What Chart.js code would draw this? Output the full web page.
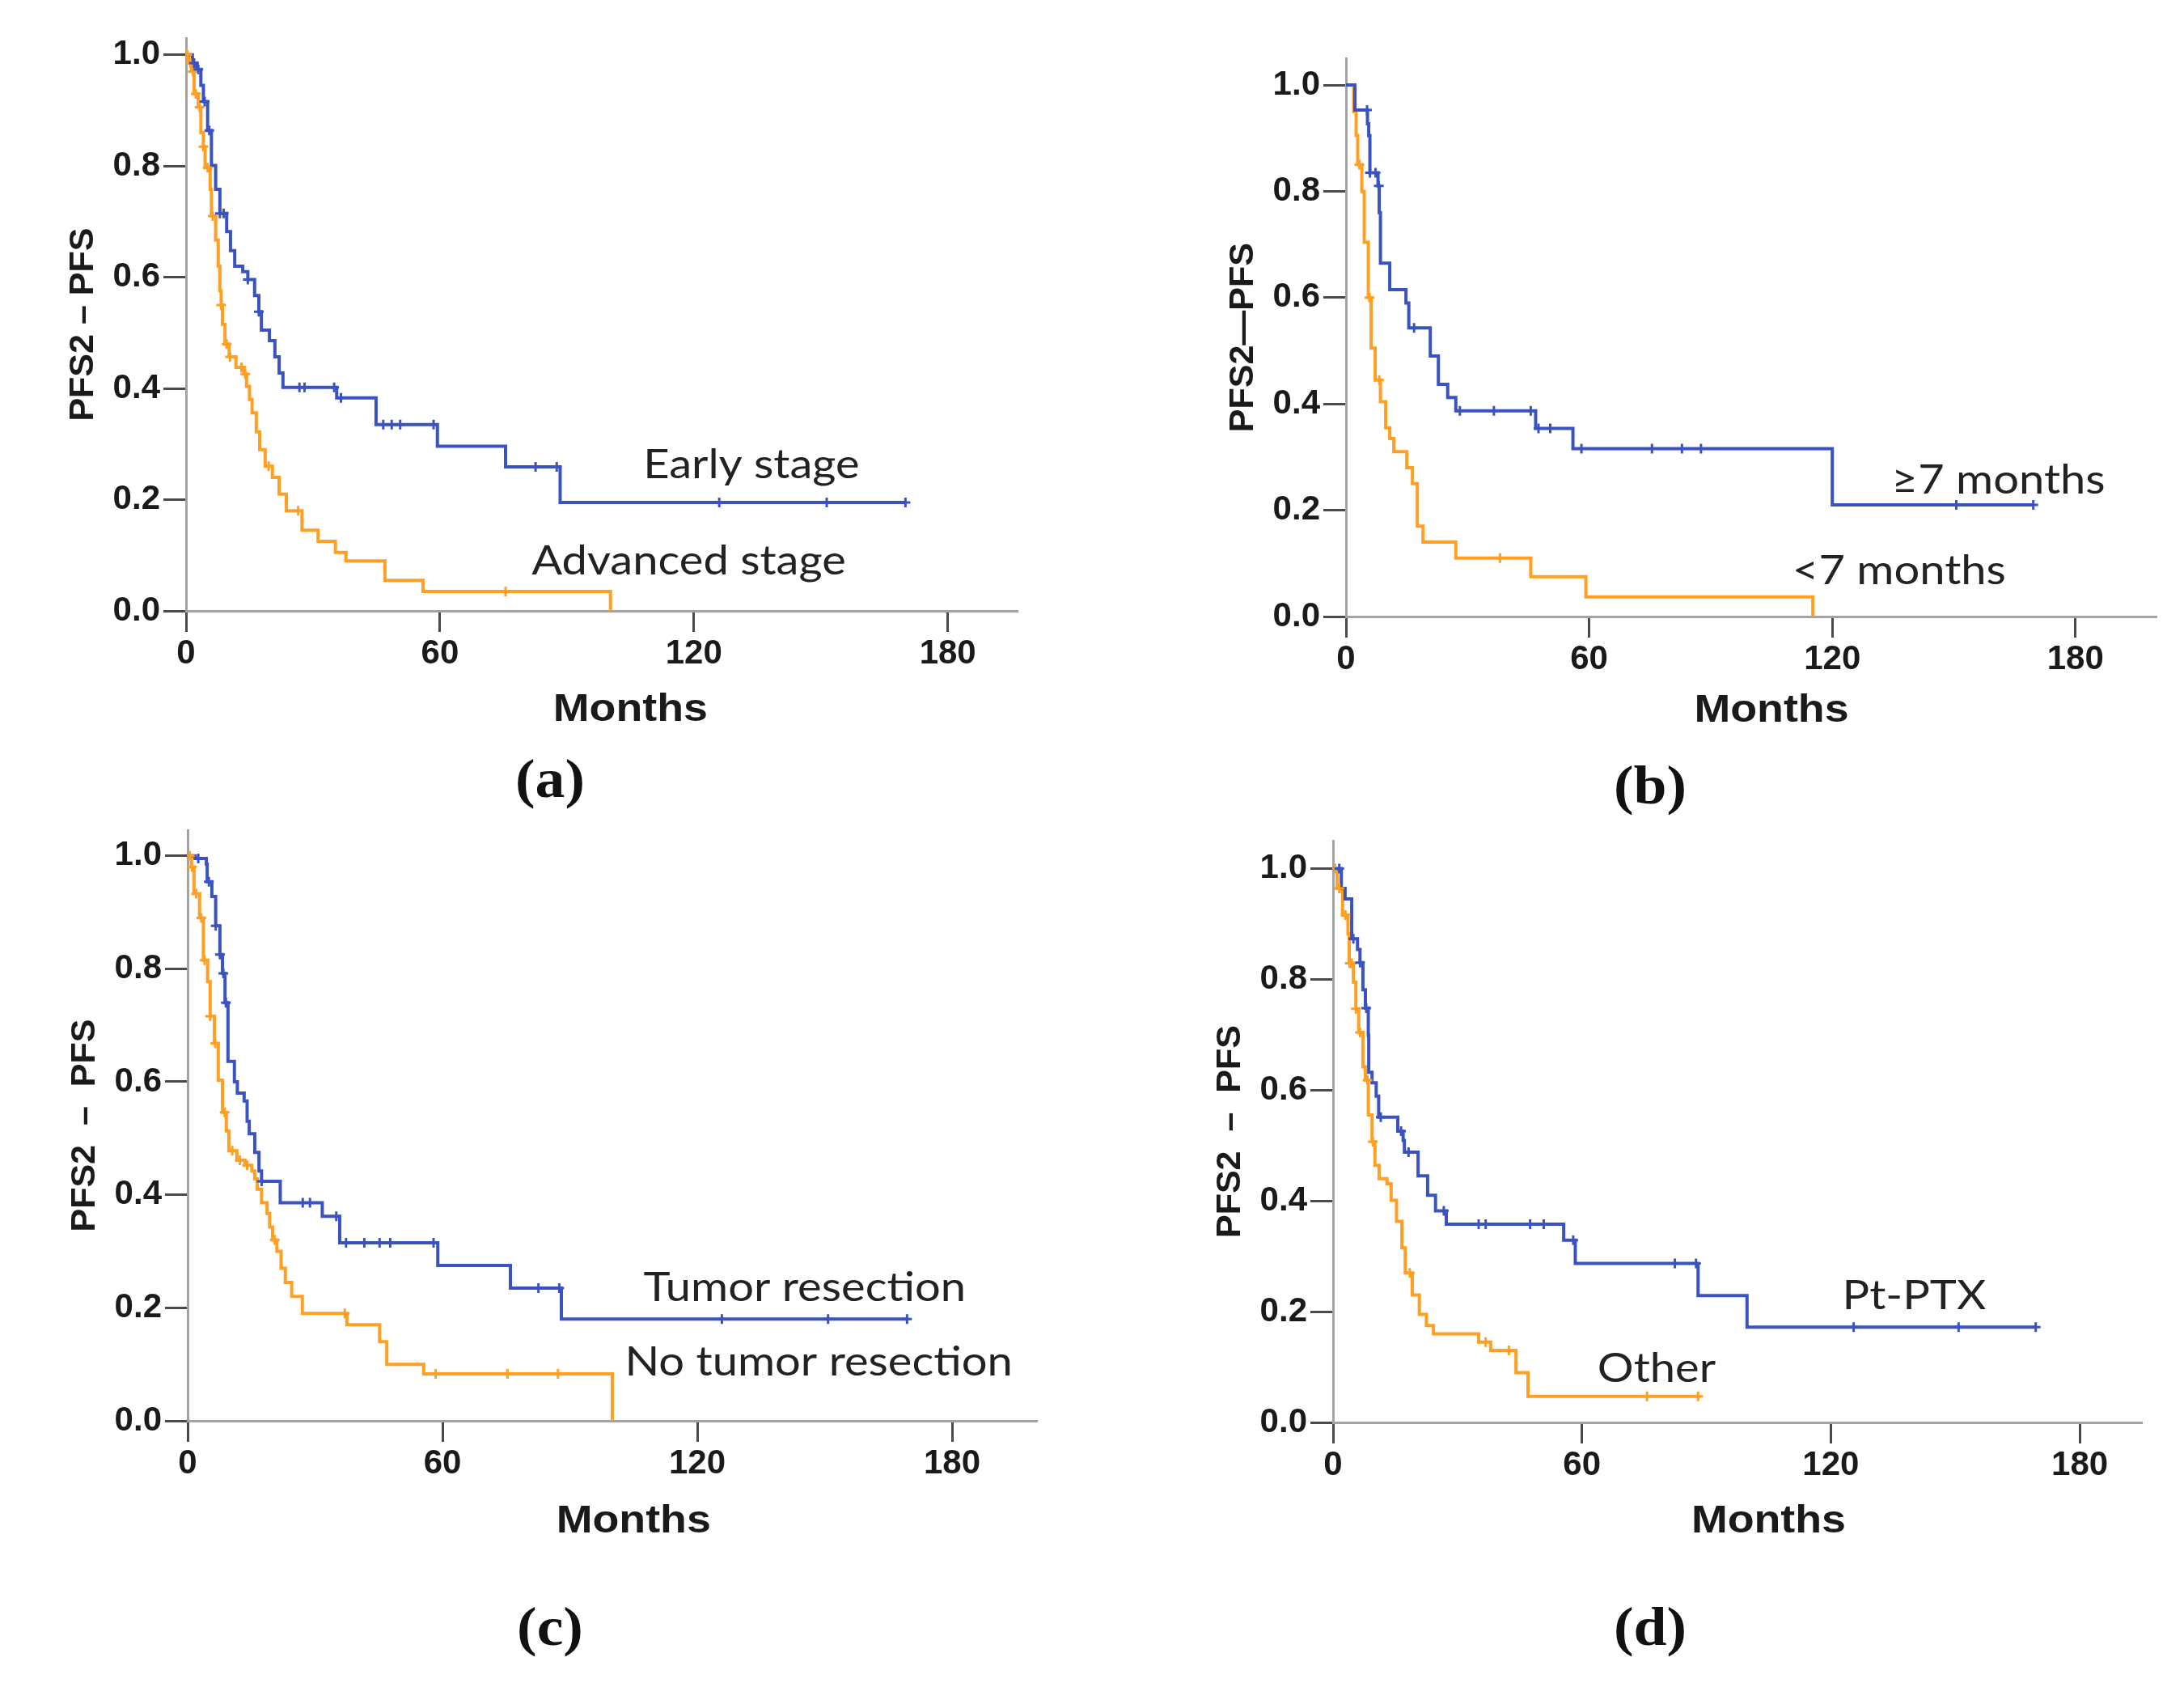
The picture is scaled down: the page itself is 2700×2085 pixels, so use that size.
<!DOCTYPE html>
<html><head><meta charset="utf-8">
<script src="https://cdn.jsdelivr.net/npm/chart.js@4.4.1/dist/chart.umd.min.js"></script>
<style>
html,body{margin:0;padding:0;background:#fff;}
body{width:2700px;height:2085px;position:relative;overflow:hidden;}
canvas{position:absolute;}
.cap{position:absolute;font-family:"Liberation Serif",serif;font-weight:bold;font-size:67px;color:#111;white-space:nowrap;transform:translate(-50%,-50%) scaleX(1.1);}
</style></head><body>
<script>
// ---------- data ----------
const xTickValues = [0, 60, 120, 180];
const yTickValues = [0, 0.2, 0.4, 0.6, 0.8, 1.0];
const panelLetters = ['(a)', '(b)', '(c)', '(d)'];
const yTitles = ['PFS2 \u2013 PFS', 'PFS2\u2014PFS', 'PFS2  \u2013  PFS', 'PFS2  \u2013  PFS'];
const xTitle = 'Months';

// (a)
const aBlueName = 'Early stage';
const aBlueT = [0,1.5,2.5,3.5,4.1,5.1,6.0,7.0,8.0,9.6,10.5,11.5,13.4,14.6,16.2,17.2,17.8,19.7,21.0,22.0,22.9,35.6,44.9,59.4,75.5,88.4,170];
const aBlueS = [1,0.985,0.974,0.945,0.916,0.864,0.801,0.758,0.715,0.682,0.648,0.62,0.61,0.596,0.567,0.538,0.505,0.486,0.457,0.428,0.402,0.383,0.335,0.296,0.259,0.195,0.195];
const aBlueCens = [1.9,2.9,4.4,5.5,8.0,8.9,14.6,17.2,26.8,28.0,35.0,36.6,46.6,48.6,50.6,58.5,82.6,87.6,126,151.4,170];
const aOrName = 'Advanced stage';
const aOrT = [0,0.6,1.3,1.9,2.9,3.5,4.1,4.5,5.7,6.0,7.0,7.6,8.0,8.3,8.6,9.2,10.2,11.8,13.7,14.3,15.0,15.6,16.6,17.4,18.7,20.4,22.0,23.7,27.4,31.2,35.3,37.8,47.0,56.0,100.3];
const aOrS = [1,0.985,0.97,0.93,0.906,0.86,0.835,0.797,0.758,0.71,0.667,0.62,0.576,0.55,0.515,0.48,0.457,0.438,0.426,0.404,0.38,0.356,0.322,0.29,0.26,0.24,0.21,0.18,0.145,0.125,0.105,0.09,0.055,0.035,0];
const aOrCens = [0.3,1.0,1.6,2.3,3.2,4.1,5.1,6.3,8.3,9.6,10.4,13.1,14.0,19.5,26.5,75.5];

// (b)
const bBlueName = '\u22657 months';
const bBlueT = [0,2.2,5.3,5.6,5.9,7.9,8.2,8.5,10.8,14.8,15.5,20.8,22.8,25.1,27.1,46.8,56.0,120.0,169.6];
const bBlueS = [1,0.953,0.927,0.905,0.835,0.81,0.76,0.665,0.615,0.59,0.543,0.49,0.437,0.412,0.387,0.354,0.316,0.21,0.21];
const bBlueCens = [5.2,5.9,7.3,8.1,16.8,28.1,36.5,45.6,47.5,50.4,58.1,75.5,82.9,87.6,150.6,169.6];
const bOrName = '<7 months';
const bOrT = [0,1.9,2.5,2.9,3.9,4.5,5.5,6.2,7.2,8.5,9.8,10.8,11.8,15.0,16.4,17.6,19.0,27.1,45.6,59.2,115.2];
const bOrS = [1,0.95,0.905,0.85,0.80,0.704,0.60,0.505,0.445,0.404,0.355,0.335,0.31,0.28,0.25,0.17,0.14,0.11,0.075,0.037,0];
const bOrCens = [3.3,5.8,8.2,38.0];

// (c)
const cBlueName = 'Tumor resection';
const cBlueT = [0,1.8,4.4,4.6,5.7,6.6,7.6,8.2,8.8,9.5,11.0,11.7,13.3,14.0,14.5,15.8,16.8,17.4,21.8,31.7,35.8,58.9,76.0,88.0,169.4];
const cBlueS = [1,0.995,0.985,0.954,0.928,0.876,0.825,0.792,0.74,0.636,0.60,0.58,0.566,0.53,0.508,0.475,0.442,0.424,0.386,0.362,0.315,0.275,0.235,0.18,0.18];
const cBlueCens = [2.5,5.0,6.6,7.6,8.4,9.0,17.4,27.1,28.8,35.0,37.3,41.6,45.2,47.7,57.9,82.6,87.5,125.8,150.8,169.4];
const cOrName = 'No tumor resection';
const cOrT = [0,0.9,1.5,2.8,3.7,4.7,5.3,6.3,7.2,8.2,9.1,9.7,11.6,13.5,15.1,15.8,16.4,17.4,18.7,19.3,20.0,21.0,22.0,23.0,24.5,27.0,37.5,45.2,46.9,55.6,100.0];
const cOrS = [1,0.98,0.933,0.89,0.815,0.777,0.716,0.668,0.603,0.546,0.513,0.478,0.461,0.452,0.442,0.428,0.41,0.386,0.367,0.343,0.32,0.30,0.27,0.245,0.22,0.19,0.17,0.14,0.10,0.083,0];
const cOrCens = [0.5,1.0,2.0,3.2,4.0,5.3,6.5,8.7,10.5,12.3,14.0,20.5,37.0,58.4,75.3,87.2];

// (d)
const dBlueName = 'Pt-PTX';
const dBlueT = [0,2.0,2.9,4.5,5.9,6.5,7.2,7.8,8.5,8.6,9.4,10.4,11.0,15.6,16.9,17.2,20.5,22.8,24.7,27.3,55.6,58.4,88.0,99.8,169.4];
const dBlueS = [1,0.964,0.945,0.873,0.854,0.83,0.781,0.748,0.699,0.632,0.613,0.589,0.551,0.526,0.509,0.488,0.445,0.41,0.382,0.358,0.329,0.287,0.229,0.172,0.172];
const dBlueCens = [1.5,4.9,6.5,8.0,11.5,16.4,18.2,26.7,35.1,36.8,47.5,50.8,57.9,82.4,87.5,125.5,150.8,169.4];
const dOrName = 'Other';
const dOrT = [0,1.0,2.3,3.6,3.9,4.9,5.5,6.2,7.2,7.8,8.5,9.4,10.1,11.1,13.0,14.0,15.3,16.6,17.4,19.1,20.8,22.5,24.2,35.1,38.0,44.1,47.0,88.0];
const dOrS = [1,0.964,0.916,0.882,0.829,0.795,0.747,0.704,0.642,0.618,0.555,0.507,0.464,0.44,0.431,0.401,0.363,0.315,0.27,0.23,0.195,0.175,0.16,0.145,0.13,0.09,0.047,0.047];
const dOrCens = [0.5,1.5,3.0,4.0,4.5,5.5,6.5,8.3,9.6,18.5,36.8,42.4,75.7,88.0];

// ---------- layout / style ----------
const BLUE = '#3b53c0';
const ORANGE = '#ffa024';
const AXIS = '#a3a3a3';
const TICK = '#4a4a4a';
const TXT = '#1a1a1a';
const Wy = 153, Hx = 200, padTop = 20, padRight = 30;
const layouts = [
  {x0:230,  pxM:5.233, y0:755,   pxU:696.5, xmax:196.5, ymax:1.03,  cap:[680,962],  mdy:123, lab:[[133.6,0.262],[118.8,0.090]]},
  {x0:1664, pxM:5.01,  y0:762.7, pxU:666,   xmax:200,   ymax:1.05,  cap:[2040,970], mdy:117, lab:[[161.0,0.257],[136.5,0.0855]]},
  {x0:232,  pxM:5.25,  y0:1756,  pxU:706.7, xmax:200,   ymax:1.045, cap:[680,2010], mdy:125, lab:[[145.3,0.236],[148.6,0.104]]},
  {x0:1648, pxM:5.13,  y0:1758,  pxU:693.3, xmax:195,   ymax:1.05,  cap:[2040,2010],mdy:123, lab:[[140.1,0.228],[78.0,0.097]]}
];
const panels = [
  {bn:aBlueName,bt:aBlueT,bs:aBlueS,bc:aBlueCens,on:aOrName,ot:aOrT,os:aOrS,oc:aOrCens},
  {bn:bBlueName,bt:bBlueT,bs:bBlueS,bc:bBlueCens,on:bOrName,ot:bOrT,os:bOrS,oc:bOrCens},
  {bn:cBlueName,bt:cBlueT,bs:cBlueS,bc:cBlueCens,on:cOrName,ot:cOrT,os:cOrS,oc:cOrCens},
  {bn:dBlueName,bt:dBlueT,bs:dBlueS,bc:dBlueCens,on:dOrName,ot:dOrT,os:dOrS,oc:dOrCens}
];

function survAt(T,S,t){let v=S[0];for(let i=0;i<T.length;i++){if(T[i]<=t)v=S[i];}return v;}
function curve(T,S){return T.map((t,i)=>({x:t,y:S[i]}));}
function cens(T,S,C){return C.map(t=>({x:t,y:survAt(T,S,t)}));}

const textPlugin = {
  id:'kmText',
  afterDatasetsDraw(chart, args, opts){
    const ctx = chart.ctx, xs = chart.scales.x, ys = chart.scales.y;
    (opts.items||[]).forEach(it=>{
      const px = xs.getPixelForValue(it.x);
      const py = (it.dy !== undefined) ? ys.getPixelForValue(0) + it.dy : ys.getPixelForValue(it.y);
      ctx.save();
      ctx.translate(px, py);
      ctx.scale(it.sx || 1, 1);
      ctx.font = it.font; ctx.fillStyle = it.color;
      ctx.textAlign = 'center'; ctx.textBaseline = 'middle';
      ctx.fillText(it.text, 0, 0);
      ctx.restore();
    });
  }
};

panels.forEach((p, i) => {
  const L = layouts[i];
  const areaTop = L.y0 - L.ymax * L.pxU;
  const areaRight = L.x0 + L.xmax * L.pxM;
  const cLeft = L.x0 - Wy;
  const cTop = areaTop - padTop;
  const cW = Math.round(areaRight + padRight - cLeft);
  const cH = Math.round(L.y0 + Hx - cTop);
  const cv = document.createElement('canvas');
  cv.width = cW; cv.height = cH;
  cv.style.left = cLeft + 'px'; cv.style.top = cTop + 'px';
  cv.style.width = cW + 'px'; cv.style.height = cH + 'px';
  document.body.appendChild(cv);

  const tickFont = {family:'"Liberation Sans", Arial, sans-serif', weight:'bold', size:42};
  new Chart(cv, {
    type:'line',
    data:{datasets:[
      {label:p.bn, data:curve(p.bt,p.bs), borderColor:BLUE, borderWidth:4, stepped:true, pointRadius:0, fill:false, order:3},
      {label:p.on, data:curve(p.ot,p.os), borderColor:ORANGE, borderWidth:4, stepped:true, pointRadius:0, fill:false, order:4},
      {label:p.bn+' (censored)', data:cens(p.bt,p.bs,p.bc), showLine:false, pointStyle:'cross', pointRadius:6,
       pointBorderColor:BLUE, pointBorderWidth:3, borderColor:BLUE, order:1},
      {label:p.on+' (censored)', data:cens(p.ot,p.os,p.oc), showLine:false, pointStyle:'cross', pointRadius:6,
       pointBorderColor:ORANGE, pointBorderWidth:3, borderColor:ORANGE, order:2}
    ]},
    options:{
      responsive:false, animation:false, devicePixelRatio:1,
      layout:{padding:{left:0, top:padTop, right:padRight, bottom:0}},
      plugins:{
        legend:{display:false}, tooltip:{enabled:false},
        kmText:{items:[
          {text:p.bn, x:L.lab[0][0], y:L.lab[0][1], font:'51px Lato, "Open Sans", sans-serif', color:'#222', sx:1.1},
          {text:p.on, x:L.lab[1][0], y:L.lab[1][1], font:'51px Lato, "Open Sans", sans-serif', color:'#222', sx:1.1},
          {text:xTitle, x:105, dy:L.mdy, font:'bold 48px "Liberation Sans", Arial, sans-serif', color:TXT, sx:1.12}
        ]}
      },
      scales:{
        x:{type:'linear', min:0, max:L.xmax,
           afterBuildTicks:s=>{s.ticks = xTickValues.map(v=>({value:v}));},
           afterFit:s=>{s.height = Hx;},
           ticks:{font:tickFont, color:TXT, padding:2, maxRotation:0, autoSkip:false, callback:v=>String(v)},
           grid:{display:true, drawOnChartArea:false, drawTicks:true, tickLength:26, tickWidth:3, tickColor:TICK},
           border:{display:true, color:AXIS, width:3}},
        y:{type:'linear', min:0, max:L.ymax,
           afterBuildTicks:s=>{s.ticks = yTickValues.map(v=>({value:v}));},
           afterFit:s=>{s.width = Wy;},
           ticks:{font:tickFont, color:TXT, padding:4, autoSkip:false, callback:v=>Number(v).toFixed(1)},
           grid:{display:true, drawOnChartArea:false, drawTicks:true, tickLength:28, tickWidth:3, tickColor:TICK},
           border:{display:true, color:AXIS, width:3},
           title:{display:true, text:yTitles[i], color:TXT, padding:0,
                  font:{family:'"Liberation Sans", Arial, sans-serif', weight:'bold', size:43}}}
      }
    },
    plugins:[textPlugin]
  });

  const cap = document.createElement('div');
  cap.className = 'cap';
  cap.textContent = panelLetters[i];
  cap.style.left = L.cap[0] + 'px'; cap.style.top = L.cap[1] + 'px';
  document.body.appendChild(cap);
});
</script>
</body></html>
